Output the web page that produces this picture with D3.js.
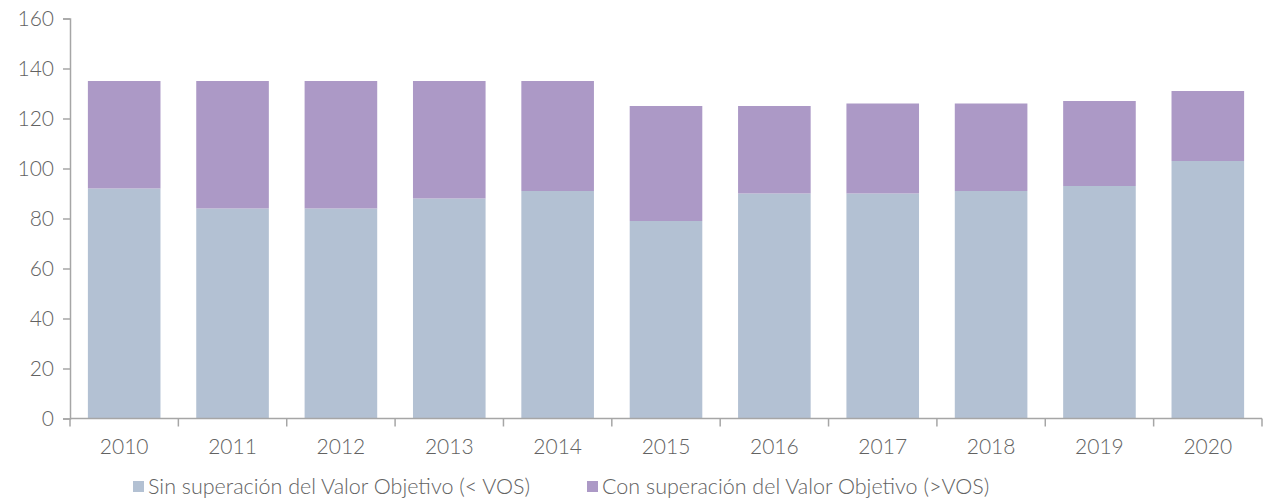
<!DOCTYPE html>
<html>
<head>
<meta charset="utf-8">
<script src="https://cdn.jsdelivr.net/npm/d3@7"></script>
<style>
  body { margin: 0; background: #fff; }
  text { font-family: Lato, "Open Sans", sans-serif; font-weight: 300; fill: #626262; }
</style>
</head>
<body>
<svg id="chart" width="1265" height="498"></svg>
<script>
// datos
let years = ["2010", "2011", "2012", "2013", "2014", "2015", "2016", "2017", "2018", "2019", "2020"]
let sinSuperacion = [92, 84, 84, 88, 91, 79, 90, 90, 91, 93, 103]
let conSuperacion = [43, 51, 51, 47, 44, 46, 35, 36, 35, 34, 28]
let yTicks = [0, 20, 40, 60, 80, 100, 120, 140, 160]
let seriesNames = ["Sin superación del Valor Objetivo (< VOS)", "Con superación del Valor Objetivo (>VOS)"]
let colors = ["#b3c1d3", "#ac99c6"]

let svg = d3.select("#chart")
let mLeft = 70, mRight = 1262, mTop = 18.5, mBottom = 418.5

let rows = years.map((y, i) => ({ year: y, sin: sinSuperacion[i], con: conSuperacion[i] }))
let stack = d3.stack().keys(["sin", "con"])(rows)

let xScale = d3.scaleBand().domain(years).range([mLeft, mRight]).paddingInner(0.33).paddingOuter(0.165)
let yScale = d3.scaleLinear().domain([0, 160]).range([mBottom, mTop])

let groups = svg.selectAll("g.serie")
  .data(stack)
  .enter()
  .append("g")
  .attr("class", "serie")
  .attr("fill", (d, i) => colors[i])

groups.selectAll("rect")
  .data(d => d)
  .enter()
  .append("rect")
  .attr("x", d => xScale(d.data.year))
  .attr("width", xScale.bandwidth())
  .attr("y", d => yScale(d[1]))
  .attr("height", d => yScale(d[0]) - yScale(d[1]))

// eje y
let yAxis = d3.axisLeft(yScale).tickValues(yTicks).tickSize(7).tickPadding(9)
let yAxisGroup = svg.append("g")
  .attr("transform", `translate(${mLeft},0)`)
  .call(yAxis)
yAxisGroup.select(".domain").attr("stroke", "#a6a6a6").attr("stroke-width", 1.5)
yAxisGroup.selectAll(".tick line").attr("stroke", "#a6a6a6").attr("stroke-width", 1.5)
yAxisGroup.selectAll(".tick text")
  .style("font-size", "21px")
  .style("font-family", "Lato, sans-serif")
  .style("font-weight", 300)
  .attr("fill", "#626262")

// eje x, marcas entre categorias
let xAxisGroup = svg.append("g")
  .attr("transform", `translate(0,${mBottom})`)
xAxisGroup.append("line")
  .attr("x1", mLeft).attr("x2", mRight)
  .attr("stroke", "#a6a6a6").attr("stroke-width", 1.5)
let bounds = d3.range(years.length + 1).map(i => mLeft + i * xScale.step())
xAxisGroup.selectAll("line.tk")
  .data(bounds)
  .enter()
  .append("line")
  .attr("class", "tk")
  .attr("x1", d => d).attr("x2", d => d)
  .attr("y1", 0).attr("y2", 8)
  .attr("stroke", "#a6a6a6").attr("stroke-width", 1.5)
xAxisGroup.selectAll("text")
  .data(years)
  .enter()
  .append("text")
  .attr("x", d => xScale(d) + xScale.bandwidth() / 2)
  .attr("y", 35)
  .attr("text-anchor", "middle")
  .style("font-size", "21px")
  .text(d => d)

// leyenda
let legendX = [133, 587]
let legend = svg.selectAll("g.legend")
  .data(seriesNames)
  .enter()
  .append("g")
  .attr("class", "legend")
  .attr("transform", (d, i) => `translate(${legendX[i]},481)`)
legend.append("rect")
  .attr("width", 11).attr("height", 11)
  .attr("fill", (d, i) => colors[i])
legend.append("text")
  .attr("x", 15).attr("y", 13)
  .style("font-size", "21.5px")
  .text(d => d)
</script>
</body>
</html>
